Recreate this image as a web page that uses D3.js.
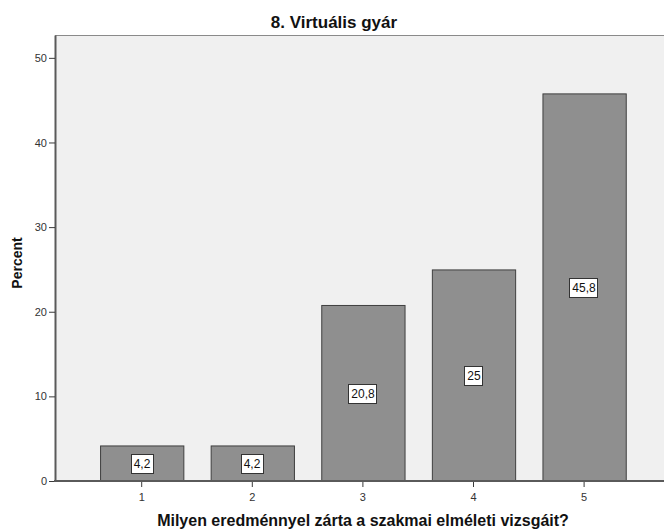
<!DOCTYPE html>
<html>
<head>
<meta charset="utf-8">
<script src="https://cdn.jsdelivr.net/npm/d3@7"></script>
<style>
  body { margin: 0; background: #fff; }
  text { font-family: Arial, "Liberation Sans", sans-serif; }
</style>
</head>
<body>
<svg id="chart" width="664" height="531"></svg>
<script>
const categories = ["1", "2", "3", "4", "5"]
const percents = [4.2, 4.2, 20.8, 25, 45.8]
const valueLabels = ["4,2", "4,2", "20,8", "25", "45,8"]
const yTicks = [0, 10, 20, 30, 40, 50]

const chartTitle = "8. Virtuális gyár"
const xTitle = "Milyen eredménnyel zárta a szakmai elméleti vizsgáit?"
const yTitle = "Percent"

const svg = d3.select("#chart")
const plot = { left: 55, right: 670, top: 35, bottom: 481 }

const y = d3.scaleLinear().domain([0, 52.7]).range([plot.bottom, plot.top])
const x = d3.scaleBand().domain(categories).range([86.4, 639.4]).paddingInner(0.247).paddingOuter(0.1235)

// plot background
svg.append("rect")
  .attr("x", plot.left).attr("y", plot.top)
  .attr("width", plot.right - plot.left).attr("height", plot.bottom - plot.top)
  .attr("fill", "#f0f0f0")
svg.append("line")
  .attr("x1", plot.left).attr("x2", plot.right)
  .attr("y1", plot.top + 0.5).attr("y2", plot.top + 0.5)
  .attr("stroke", "#8a8a8a")

// bars
const data = categories.map((c, i) => ({ cat: c, v: percents[i], label: valueLabels[i] }))
svg.selectAll(".bar").data(data).enter().append("rect")
  .attr("class", "bar")
  .attr("x", (d) => x(d.cat) + 0.5)
  .attr("y", (d) => y(d.v) + 0.5)
  .attr("width", x.bandwidth())
  .attr("height", (d) => y(0) - y(d.v))
  .attr("fill", "#8f8f8f")
  .attr("stroke", "#3f3f3f")
  .attr("stroke-width", 1)

// axes
const gy = svg.append("g").attr("transform", `translate(${plot.left},0)`)
  .call(d3.axisLeft(y).tickValues(yTicks).tickSize(6).tickSizeOuter(0).tickFormat(d3.format("d")))
gy.select(".domain").attr("stroke", "#5a5a5a").attr("stroke-width", 2)
gy.selectAll(".tick line").attr("stroke", "#3a3a3a")
gy.selectAll(".tick text").attr("x", -8).attr("font-size", 11).attr("fill", "#333").style("font-family", "Arial, 'Liberation Sans', sans-serif")

const gx = svg.append("g").attr("transform", `translate(0,${plot.bottom})`)
  .call(d3.axisBottom(x).tickSize(6).tickSizeOuter(0))
gx.select(".domain").remove()
gx.selectAll(".tick line").attr("stroke", "#3a3a3a")
gx.selectAll(".tick text").attr("y", 12).attr("font-size", 11).attr("fill", "#333").style("font-family", "Arial, 'Liberation Sans', sans-serif")
svg.append("line")
  .attr("x1", plot.left - 1).attr("x2", plot.right)
  .attr("y1", plot.bottom).attr("y2", plot.bottom)
  .attr("stroke", "#5a5a5a").attr("stroke-width", 2)

// value labels
const lab = svg.selectAll(".lab").data(data).enter().append("g")
  .attr("class", "lab")
  .attr("transform", (d) => `translate(${Math.round(x(d.cat) + x.bandwidth() / 2)},${Math.round((y(d.v) + y(0)) / 2 + 1)})`)
lab.append("rect").attr("fill", "#fff").attr("stroke", "#333")
lab.append("text")
  .attr("text-anchor", "middle").attr("dy", "0.36em")
  .attr("font-size", 12).attr("fill", "#111")
  .text((d) => d.label)
lab.each(function () {
  const g = d3.select(this)
  const w = g.select("text").node().getComputedTextLength()
  g.select("rect").attr("x", Math.round(-w / 2 - 3) + 0.5).attr("y", -9.5).attr("width", Math.round(w + 5)).attr("height", 19)
})

// titles
svg.append("text")
  .attr("x", 334).attr("y", 28)
  .attr("text-anchor", "middle").attr("font-size", 17).attr("font-weight", "bold").attr("fill", "#111")
  .text(chartTitle)
svg.append("text")
  .attr("x", 363).attr("y", 526)
  .attr("text-anchor", "middle").attr("font-size", 16).attr("font-weight", "bold").attr("fill", "#111")
  .text(xTitle)
svg.append("text")
  .attr("transform", "translate(22,263) rotate(-90)")
  .attr("text-anchor", "middle").attr("font-size", 14).attr("font-weight", "bold").attr("fill", "#111")
  .text(yTitle)
</script>
</body>
</html>
